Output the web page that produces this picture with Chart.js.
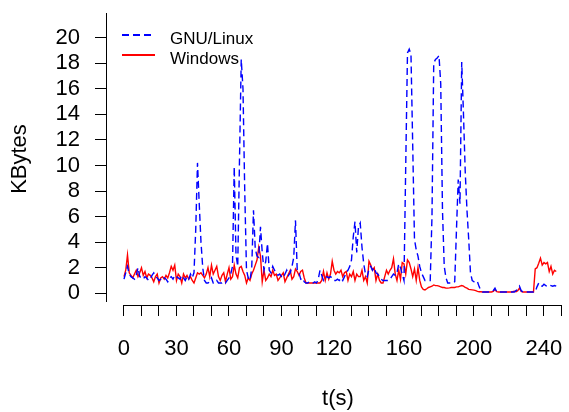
<!DOCTYPE html>
<html>
<head>
<meta charset="utf-8">
<script src="https://cdn.jsdelivr.net/npm/chart.js@4"></script>
<style>
  html, body { margin: 0; padding: 0; background: #fff; }
  #wrap { width: 569px; height: 412px; }
</style>
</head>
<body>
<div id="wrap"><canvas id="myChart" width="569" height="412"></canvas></div>
<script>
// one sample per second, t = 0 .. 247
var linuxKB = [
    1.1, 1.6, 2.1, 1.5, 1.3, 1.2, 1.1, 1.4, 2.0, 1.3,
    1.2, 1.1, 1.3, 1.2, 1.0, 1.1, 1.4, 1.6, 1.3, 1.2,
    1.0, 1.1, 1.3, 1.2, 1.1, 0.9, 1.2, 1.3, 1.1, 1.4,
    1.3, 1.2, 1.1, 1.4, 1.2, 1.0, 1.3, 1.1, 1.5, 1.2,
    1.6, 5.0, 10.2, 7.0, 4.0, 2.0, 1.0, 0.8, 0.8, 0.9,
    1.2, 0.8, 0.8, 1.0, 0.8, 0.8, 0.8, 0.9, 0.8, 1.0,
    1.2, 1.5, 2.1, 9.9, 3.0, 2.1, 10.4, 18.3, 16.0, 8.0,
    1.8, 1.2, 1.0, 2.0, 6.5, 3.5, 2.9, 2.8, 5.2, 3.2,
    1.8, 2.5, 3.9, 1.8, 1.6, 2.1, 1.8, 1.6, 1.4, 1.5,
    1.3, 1.2, 1.5, 1.8, 1.4, 1.6, 2.1, 2.8, 5.7, 1.8,
    1.6, 1.1, 1.2, 0.9, 0.8, 0.8, 0.9, 0.8, 0.8, 0.9,
    0.8, 1.1, 1.8, 1.4, 1.0, 1.2, 1.3, 1.2, 1.3, 1.2,
    1.0, 1.0, 1.1, 1.0, 1.2, 1.0, 1.3, 1.6, 1.8, 2.1,
    2.6, 4.4, 5.6, 3.2, 5.2, 5.5, 3.6, 2.3, 1.5, 1.3,
    1.9, 2.1, 1.8, 2.0, 1.6, 1.5, 1.3, 1.1, 1.0, 1.0,
    1.0, 1.0, 1.1, 1.3, 1.5, 1.4, 1.6, 2.3, 2.0, 1.5,
    1.0, 10.0, 18.8, 19.1, 18.7, 11.5, 4.2, 3.4, 2.9, 2.1,
    1.6, 1.3, 1.0, 1.0, 1.0, 1.0, 6.0, 18.0, 18.3, 18.4,
    18.6, 16.4, 6.5, 2.1, 1.2, 0.8, 0.8, 0.8, 0.8, 0.9,
    5.0, 8.9, 7.0, 18.1, 14.0, 9.5, 6.5, 4.2, 1.6, 1.0,
    0.9, 0.8, 0.9, 0.5, 0.2, 0.1, 0.1, 0.1, 0.1, 0.1,
    0.1, 0.2, 0.4, 0.1, 0.1, 0.1, 0.1, 0.1, 0.1, 0.1,
    0.1, 0.1, 0.1, 0.1, 0.2, 0.3, 0.55, 0.2, 0.1, 0.1,
    0.1, 0.1, 0.1, 0.1, 0.1, 0.1, 0.5, 0.8, 0.6, 0.55,
    0.7, 0.6, 0.55, 0.65, 0.6, 0.55, 0.6, 0.55
];

var windowsKB = [
    1.3, 1.8, 3.0, 1.6, 1.4, 1.2, 1.5, 1.8, 1.3, 1.6,
    2.0, 1.4, 1.7, 1.2, 1.5, 1.4, 1.2, 0.9, 1.3, 1.5,
    0.8, 1.2, 1.3, 1.1, 1.4, 1.2, 1.6, 2.1, 1.8, 2.2,
    1.0, 1.5, 1.3, 0.8, 1.5, 1.2, 1.4, 1.1, 1.3, 1.0,
    0.8, 1.2, 1.6, 1.5, 1.6, 1.4, 1.2, 1.5, 2.0, 1.3,
    2.2, 1.5, 1.8, 2.1, 1.3, 1.0, 1.4, 1.6, 0.9, 1.5,
    2.0, 1.1, 1.3, 2.2, 1.5, 1.2, 2.0, 2.1, 1.7, 1.4,
    0.8, 1.2, 1.0, 1.5, 1.8, 2.2, 2.6, 3.6, 2.9, 0.9,
    1.8, 1.0, 1.2, 1.5, 1.3, 1.8, 1.4, 1.5, 1.0, 1.2,
    1.4, 1.6, 0.9, 1.2, 1.5, 1.8, 1.1, 1.3, 1.9, 1.7,
    1.4, 1.7, 1.8, 1.2, 0.8, 0.8, 0.8, 0.8, 0.8, 0.8,
    0.8, 0.8, 0.8, 1.0, 1.7, 1.0, 1.6, 1.1, 1.5, 2.5,
    1.8, 1.5, 1.7, 1.6, 1.8, 1.3, 1.6, 1.7, 1.0, 1.5,
    1.3, 1.7, 1.0, 1.5, 1.3, 1.3, 1.8, 1.0, 1.3, 0.8,
    2.5, 2.2, 1.8, 2.0, 1.0, 1.5, 1.0, 0.8, 0.8, 1.3,
    1.8, 1.5, 1.8, 2.0, 2.7, 1.5, 1.0, 1.8, 1.1, 2.4,
    2.3, 1.5, 2.6, 2.4, 1.9, 1.3, 1.9, 1.0, 2.0, 1.0,
    0.5, 0.3, 0.26, 0.35, 0.45, 0.5, 0.55, 0.65, 0.6, 0.6,
    0.55, 0.5, 0.45, 0.45, 0.4, 0.4, 0.42, 0.45, 0.45, 0.45,
    0.5, 0.5, 0.55, 0.6, 0.55, 0.45, 0.4, 0.3, 0.28, 0.26,
    0.24, 0.2, 0.15, 0.12, 0.12, 0.1, 0.1, 0.1, 0.1, 0.1,
    0.1, 0.15, 0.3, 0.12, 0.1, 0.1, 0.1, 0.1, 0.1, 0.1,
    0.1, 0.1, 0.12, 0.15, 0.12, 0.2, 0.4, 0.15, 0.1, 0.1,
    0.1, 0.1, 0.1, 0.1, 0.1, 1.9, 2.0, 2.35, 2.75, 2.2,
    2.4, 2.3, 2.4, 1.7, 2.1, 1.5, 1.8, 1.7
];

var xTicks = [0, 10, 20, 30, 40, 50, 60, 70, 80, 90, 100, 110, 120, 130,
              140, 150, 160, 170, 180, 190, 200, 210, 220, 230, 240, 250];
var xTickLabels = [0, 30, 60, 90, 120, 160, 200, 240];
var yTicks = [0, 2, 4, 6, 8, 10, 12, 14, 16, 18, 20];
var seriesNames = ["GNU/Linux", "Windows"];

var fontFamily = "'Liberation Sans', Arial, sans-serif";

function toPoints(values) {
    var pts = [];
    for (var i = 0; i < values.length; i++) {
        pts.push({ x: i, y: values[i] });
    }
    return pts;
}

// R style axes: lines only between the end ticks, not a full frame
var axisLines = {
    id: 'axisLines',
    afterDraw: function (chart) {
        var ctx = chart.ctx, area = chart.chartArea;
        var xs = chart.scales.x;
        var yx = Math.round(area.left) - 0.5;
        var xy = Math.round(area.bottom) + 0.5;
        ctx.save();
        ctx.strokeStyle = '#000';
        ctx.lineWidth = 1;
        ctx.beginPath();
        ctx.moveTo(xs.getPixelForValue(xTicks[0]), xy);
        ctx.lineTo(xs.getPixelForValue(xTicks[xTicks.length - 1]), xy);
        ctx.moveTo(yx, area.top);
        ctx.lineTo(yx, area.bottom - 3);
        ctx.stroke();
        ctx.restore();
    }
};

// legend in the top left corner of the plot
var cornerLegend = {
    id: 'cornerLegend',
    afterDraw: function (chart) {
        var ctx = chart.ctx;
        ctx.save();
        chart.data.datasets.forEach(function (ds, i) {
            var y = 35 + i * 20;
            ctx.strokeStyle = ds.borderColor;
            ctx.lineWidth = 2;
            ctx.setLineDash(ds.borderDash || []);
            ctx.beginPath();
            ctx.moveTo(122, y);
            ctx.lineTo(155, y);
            ctx.stroke();
            ctx.setLineDash([]);
            ctx.fillStyle = '#000';
            ctx.font = "17px " + fontFamily;
            ctx.textBaseline = 'middle';
            ctx.fillText(ds.label, 170, y + 4);
        });
        ctx.restore();
    }
};

var ctx = document.getElementById("myChart");
new Chart(ctx, {
    type: "line",
    data: {
        datasets: [{
            label: seriesNames[0],
            data: toPoints(linuxKB),
            borderColor: "#0000ff",
            borderWidth: 1.4,
            borderDash: [7, 4],
            pointRadius: 0,
            tension: 0,
            fill: false
        }, {
            label: seriesNames[1],
            data: toPoints(windowsKB),
            borderColor: "#ff0000",
            borderWidth: 1.4,
            pointRadius: 0,
            tension: 0,
            fill: false
        }]
    },
    options: {
        responsive: false,
        animation: false,
        events: [],
        layout: { padding: { top: 13, left: 0, right: 0, bottom: 0 } },
        plugins: {
            legend: { display: false },
            tooltip: { enabled: false }
        },
        scales: {
            x: {
                type: "linear",
                min: -9.71,
                max: 254.3,
                afterFit: function (s) {
                    s.height = 107;
                    s.paddingLeft = 0;
                    s.paddingRight = 0;
                },
                afterBuildTicks: function (s) {
                    s.ticks = xTicks.map(function (v) { return { value: v }; });
                },
                border: { display: false },
                grid: {
                    drawOnChartArea: false,
                    drawTicks: true,
                    tickLength: 11,
                    color: "#000",
                    lineWidth: 1
                },
                ticks: {
                    autoSkip: false,
                    maxRotation: 0,
                    padding: 20,
                    color: "#000",
                    font: { family: fontFamily, size: 22 },
                    callback: function (v) {
                        return xTickLabels.indexOf(v) >= 0 ? String(v) : "";
                    }
                },
                title: {
                    display: true,
                    text: "t(s)",
                    color: "#000",
                    font: { family: fontFamily, size: 22 },
                    padding: { top: 0, bottom: 0 }
                }
            },
            y: {
                min: -0.92,
                max: 21.93,
                afterFit: function (s) {
                    s.width = 107;
                    s.paddingTop = 0;
                    s.paddingBottom = 0;
                },
                afterBuildTicks: function (s) {
                    s.ticks = yTicks.map(function (v) { return { value: v }; });
                },
                border: { display: false },
                grid: {
                    drawOnChartArea: false,
                    drawTicks: true,
                    tickLength: 12,
                    color: "#000",
                    lineWidth: 1
                },
                ticks: {
                    autoSkip: false,
                    padding: 15,
                    color: "#000",
                    font: { family: fontFamily, size: 22 }
                },
                title: {
                    display: true,
                    text: "KBytes",
                    color: "#000",
                    font: { family: fontFamily, size: 22 },
                    padding: { top: 7, bottom: 0 }
                }
            }
        }
    },
    plugins: [axisLines, cornerLegend]
});
</script>
</body>
</html>
